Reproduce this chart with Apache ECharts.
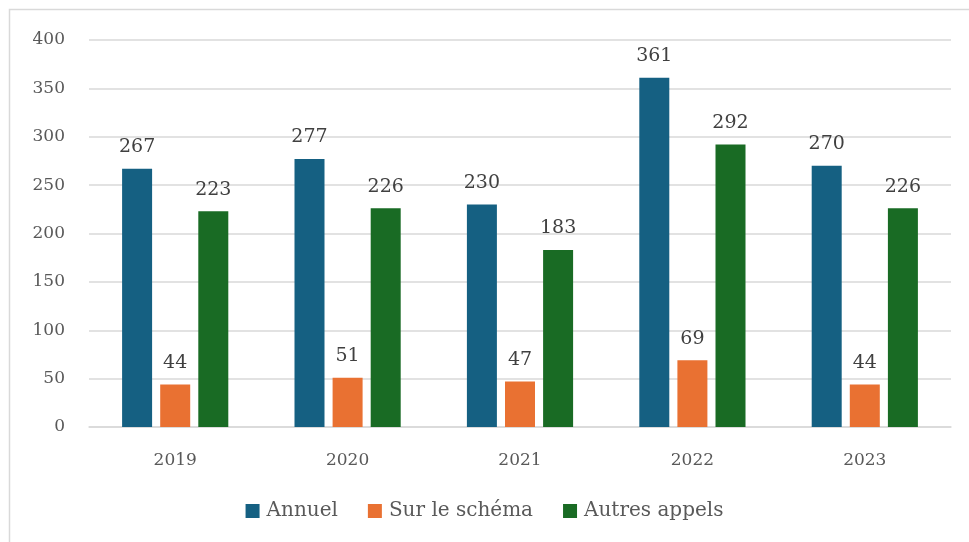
<!DOCTYPE html>
<html>
	<head>
		<meta charset="utf-8" />
		<title></title>
		<script src="https://cdn.jsdelivr.net/npm/echarts@6/dist/echarts.min.js"></script>
		<style>
			html, body { margin: 0; padding: 0; background: #fff; }
		</style>
	</head>
	<body>
		<div id="chart" style="width: 969px;height: 542px;"></div>
		<script type="text/javascript">
			var years = ['2019', '2020', '2021', '2022', '2023'];
			var annuel = [267, 277, 230, 361, 270];
			var surSchema = [44, 51, 47, 69, 44];
			var autresAppels = [223, 226, 183, 292, 226];
			var yTicks = [0, 50, 100, 150, 200, 250, 300, 350, 400];

			var font = '"DejaVu Serif", "Liberation Serif", serif';

			function barSeries(name, data, color) {
				return {
					name: name,
					type: 'bar',
					data: data,
					barWidth: 30,
					barGap: '27%',
					itemStyle: { color: color },
					label: {
						show: true,
						position: 'top',
						distance: 12,
						color: '#404040',
						fontFamily: font,
						fontSize: 19
					}
				};
			}

			var myChart = echarts.init(document.getElementById('chart'));
			myChart.setOption({
				animation: false,
				textStyle: { fontFamily: font },
				graphic: [{
					type: 'rect',
					shape: { x: 9.5, y: 9.5, width: 1000, height: 600 },
					style: { fill: 'none', stroke: '#d9d9d9', lineWidth: 1.5 },
					silent: true
				}],
				grid: {
					left: 89,
					right: 18,
					top: 40,
					bottom: 115,
					containLabel: false
				},
				legend: {
					bottom: 16,
					left: 'center',
					itemWidth: 14,
					itemHeight: 14,
					itemGap: 30,
					icon: 'rect',
					textStyle: { color: '#595959', fontSize: 20, fontFamily: font, padding: [0, 0, 0, 2] },
					data: ['Annuel', 'Sur le schéma', 'Autres appels']
				},
				xAxis: {
					type: 'category',
					data: years,
					axisLine: { lineStyle: { color: '#d9d9d9', width: 1.5 } },
					axisTick: { show: false },
					axisLabel: { color: '#595959', fontSize: 17, fontFamily: font, margin: 25 }
				},
				yAxis: {
					type: 'value',
					min: yTicks[0],
					max: yTicks[yTicks.length - 1],
					interval: 50,
					axisLine: { show: false },
					axisTick: { show: false },
					splitLine: { lineStyle: { color: '#d9d9d9', width: 1.5 } },
					axisLabel: { color: '#595959', fontSize: 17, fontFamily: font, margin: 24 }
				},
				series: [
					barSeries('Annuel', annuel, '#156082'),
					barSeries('Sur le schéma', surSchema, '#E97132'),
					barSeries('Autres appels', autresAppels, '#196B24')
				]
			});
		</script>
	</body>
</html>
